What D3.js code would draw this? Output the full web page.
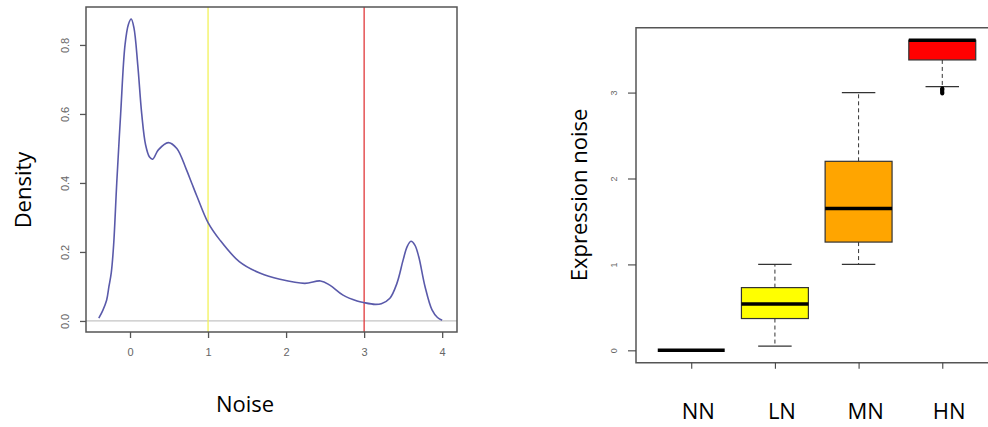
<!DOCTYPE html>
<html>
<head>
<meta charset="utf-8">
<script src="https://cdn.jsdelivr.net/npm/d3@7"></script>
<style>
	body { margin: 0; background: #fff; }
	svg { display: block; }
	.tick text { font-family: "Liberation Sans", Arial, sans-serif; fill: #666; }
	.big { font-family: "Open Sans", sans-serif; fill: #000; }
</style>
</head>
<body>
<div id="chart"></div>
<script>
// density panel
var noiseX = [-0.40, -0.35, -0.30, -0.27, -0.24, -0.21, -0.17, -0.12, -0.064, -0.02, 0.015, 0.05, 0.10, 0.15, 0.20, 0.25, 0.29, 0.363, 0.49, 0.60, 0.72, 0.79, 0.86, 1.00, 1.15, 1.40, 1.67, 1.92, 2.24, 2.44, 2.56, 2.73, 2.91, 3.00, 3.14, 3.22, 3.33, 3.42, 3.50, 3.55, 3.60, 3.65, 3.70, 3.78, 3.87, 3.94, 4.00];
var density = [0.008, 0.03, 0.06, 0.10, 0.14, 0.22, 0.40, 0.60, 0.80, 0.86, 0.875, 0.85, 0.74, 0.60, 0.51, 0.475, 0.469, 0.496, 0.517, 0.50, 0.44, 0.40, 0.36, 0.285, 0.235, 0.172, 0.138, 0.121, 0.109, 0.116, 0.104, 0.075, 0.058, 0.053, 0.048, 0.050, 0.066, 0.109, 0.177, 0.215, 0.231, 0.22, 0.186, 0.10, 0.032, 0.01, 0.002];
var xTicksL = [0, 1, 2, 3, 4];
var yTicksL = [0.0, 0.2, 0.4, 0.6, 0.8];
var cutoffs = [1, 3];

// boxplot panel
var groups = ["NN", "LN", "MN", "HN"];
var lowWhisker = [0, 0.05, 1.0, 3.07];
var q1 = [0, 0.37, 1.26, 3.38];
var median = [0, 0.54, 1.65, 3.61];
var q3 = [0, 0.73, 2.20, 3.61];
var highWhisker = [0, 1.0, 3.0, 3.61];
var outliersHN = [2.99, 3.0, 3.01, 3.02, 3.03, 3.04, 3.05];
var yTicksR = [0, 1, 2, 3];

var boxColors = ["#ffffff", "#ffff00", "#ffa500", "#ff0000"];
var cutColors = ["#f2f25a", "#e0383a"];

var width = 988, height = 427;

var svg = d3.select("div#chart").append("svg")
		.attr("width", width)
		.attr("height", height);

// ---------- left: density ----------
var xL = d3.scaleLinear()
		.domain([-0.564, 4.19])
		.range([86, 457]);

var yL = d3.scaleLinear()
		.domain([-0.032, 0.91])
		.range([332, 7]);

var left = svg.append("g");

left.append("line")
	.attr("x1", xL.range()[0]).attr("x2", xL.range()[1])
	.attr("y1", yL(0)).attr("y2", yL(0))
	.attr("stroke", "#c4c4c4")
	.attr("stroke-width", 1.2);

left.selectAll("line.cut")
	.data(cutoffs)
	.enter()
	.append("line")
	.attr("class", "cut")
	.attr("x1", function(d) { return xL(d); })
	.attr("x2", function(d) { return xL(d); })
	.attr("y1", yL.range()[0])
	.attr("y2", yL.range()[1])
	.attr("stroke", function(d, i) { return cutColors[i]; })
	.attr("stroke-width", 1.3);

var line = d3.line()
		.x(function(d, i) { return xL(noiseX[i]); })
		.y(function(d) { return yL(d); })
		.curve(d3.curveCatmullRom.alpha(0.5));

left.append("path")
	.datum(density)
	.attr("d", line)
	.attr("fill", "none")
	.attr("stroke", "#5a5aaa")
	.attr("stroke-width", 1.6);

left.append("rect")
	.attr("x", xL.range()[0])
	.attr("y", yL.range()[1])
	.attr("width", xL.range()[1] - xL.range()[0])
	.attr("height", yL.range()[0] - yL.range()[1])
	.attr("fill", "none")
	.attr("stroke", "#555")
	.attr("stroke-width", 1.5);

var xAxisL = d3.axisBottom(xL)
		.tickValues(xTicksL)
		.tickSize(6)
		.tickPadding(10)
		.tickFormat(d3.format("d"));

left.append("g")
	.attr("class", "x axis")
	.attr("transform", "translate(0," + yL.range()[0] + ")")
	.call(xAxisL)
	.call(function(g) {
		g.select(".domain").remove();
		g.selectAll("line").attr("stroke", "#555").attr("stroke-width", 1.3);
		g.selectAll("text").attr("font-size", 11);
	});

var yAxisL = d3.axisLeft(yL)
		.tickValues(yTicksL)
		.tickSize(6)
		.tickFormat(d3.format(".1f"));

left.append("g")
	.attr("class", "y axis")
	.attr("transform", "translate(" + xL.range()[0] + ",0)")
	.call(yAxisL)
	.call(function(g) {
		g.select(".domain").remove();
		g.selectAll("line").attr("stroke", "#555").attr("stroke-width", 1.3);
		g.selectAll("text")
			.attr("font-size", 11)
			.attr("text-anchor", "middle")
			.attr("x", 0)
			.attr("dy", 0)
			.attr("transform", "translate(-17,0) rotate(-90)");
	});

svg.append("text")
	.attr("class", "big")
	.attr("text-anchor", "middle")
	.attr("font-size", 22)
	.attr("transform", "translate(31,190) rotate(-90)")
	.text("Density");

svg.append("text")
	.attr("class", "big")
	.attr("text-anchor", "middle")
	.attr("font-size", 22)
	.attr("x", 245)
	.attr("y", 412)
	.text("Noise");

// ---------- right: boxplot ----------
var xR = d3.scaleLinear()
		.domain([0.34, 4.66])
		.range([636, 997.5]);

var yR = d3.scaleLinear()
		.domain([-0.144, 3.754])
		.range([362.7, 27.8]);

var boxW = 0.8, capW = 0.4;

var right = svg.append("g");

var boxes = right.selectAll("g.box")
		.data(groups)
		.enter()
		.append("g")
		.attr("class", "box");

boxes.each(function(d, i) {
	var g = d3.select(this), c = i + 1;
	if (highWhisker[i] > q3[i]) {
		g.append("line")
			.attr("x1", xR(c)).attr("x2", xR(c))
			.attr("y1", yR(q3[i])).attr("y2", yR(highWhisker[i]))
			.attr("stroke", "#333").attr("stroke-dasharray", "4,3");
	}
	if (lowWhisker[i] < q1[i]) {
		g.append("line")
			.attr("x1", xR(c)).attr("x2", xR(c))
			.attr("y1", yR(q1[i])).attr("y2", yR(lowWhisker[i]))
			.attr("stroke", "#333").attr("stroke-dasharray", "4,3");
	}
	[lowWhisker[i], highWhisker[i]].forEach(function(v) {
		if (v === q1[i] || v === q3[i]) return;
		g.append("line")
			.attr("x1", xR(c - capW / 2)).attr("x2", xR(c + capW / 2))
			.attr("y1", yR(v)).attr("y2", yR(v))
			.attr("stroke", "#333").attr("stroke-width", 1.2);
	});
	g.append("rect")
		.attr("x", xR(c - boxW / 2))
		.attr("width", xR(c + boxW / 2) - xR(c - boxW / 2))
		.attr("y", yR(q3[i]))
		.attr("height", yR(q1[i]) - yR(q3[i]))
		.attr("fill", boxColors[i])
		.attr("stroke", "#333")
		.attr("stroke-width", 1.2);
	g.append("line")
		.attr("x1", xR(c - boxW / 2)).attr("x2", xR(c + boxW / 2))
		.attr("y1", yR(median[i])).attr("y2", yR(median[i]))
		.attr("stroke", "#000").attr("stroke-width", 3.5);
});

right.selectAll("circle.out")
	.data(outliersHN)
	.enter()
	.append("circle")
	.attr("class", "out")
	.attr("cx", xR(4))
	.attr("cy", function(d) { return yR(d); })
	.attr("r", 2)
	.attr("fill", "#000");

// frame: left, top, bottom (right edge falls outside the picture)
right.append("path")
	.attr("d", "M" + xR.range()[1] + "," + yR.range()[1] +
		"H" + xR.range()[0] + "V" + yR.range()[0] + "H" + xR.range()[1])
	.attr("fill", "none")
	.attr("stroke", "#555")
	.attr("stroke-width", 1.5);

var yAxisR = d3.axisLeft(yR)
		.tickValues(yTicksR)
		.tickSize(8)
		.tickFormat(d3.format("d"));

right.append("g")
	.attr("class", "y axis")
	.attr("transform", "translate(" + xR.range()[0] + ",0)")
	.call(yAxisR)
	.call(function(g) {
		g.select(".domain").remove();
		g.selectAll("line").attr("stroke", "#444").attr("stroke-width", 1.1);
		g.selectAll("text")
			.attr("font-size", 9)
			.attr("text-anchor", "middle")
			.attr("x", 0)
			.attr("dy", 0)
			.attr("transform", "translate(-19,0) rotate(-90)");
	});

var xAxisR = d3.axisBottom(xR)
		.tickValues([1, 2, 3, 4])
		.tickSize(6)
		.tickFormat("");

right.append("g")
	.attr("class", "x axis")
	.attr("transform", "translate(0," + yR.range()[0] + ")")
	.call(xAxisR)
	.call(function(g) {
		g.select(".domain").remove();
		g.selectAll("line").attr("stroke", "#444").attr("stroke-width", 1.1);
	});

right.selectAll("text.grp")
	.data(groups)
	.enter()
	.append("text")
	.attr("class", "big grp")
	.attr("text-anchor", "middle")
	.attr("font-size", 22)
	.attr("x", function(d, i) { return xR(i + 1) + 7; })
	.attr("y", 419)
	.text(function(d) { return d; });

svg.append("text")
	.attr("class", "big")
	.attr("text-anchor", "middle")
	.attr("font-size", 22)
	.attr("transform", "translate(587,195) rotate(-90)")
	.text("Expression noise");
</script>
</body>
</html>
